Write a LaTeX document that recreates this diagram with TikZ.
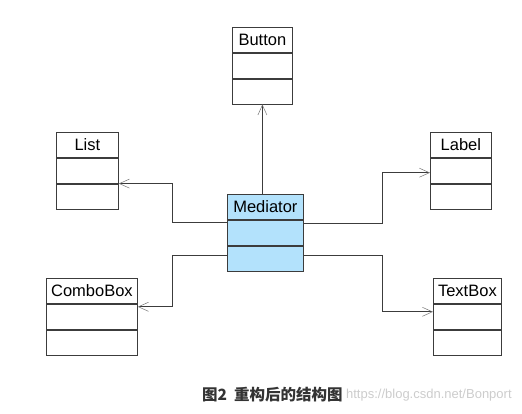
\documentclass[tikz,border=0pt]{standalone}
\usepackage{fontspec}
\newfontfamily\umlfont{Liberation Sans}
\newfontfamily\cjk{Noto Sans CJK SC}
\usepackage{tikz}
\usetikzlibrary{arrows.meta, positioning}
\definecolor{medblue}{RGB}{179,226,252}
\definecolor{linegray}{RGB}{60,60,60}

\begin{document}
\begin{tikzpicture}[
    x=1pt, y=1pt,
    head/.style={rectangle, draw=linegray, line width=0.8pt, minimum height=25pt, inner sep=0pt, anchor=north west, font=\umlfont\fontsize{16.5}{18}\selectfont},
    part/.style={rectangle, draw=linegray, line width=0.8pt, minimum height=25pt, inner sep=0pt},
    conn/.style={draw=linegray, line width=0.7pt, -{Straight Barb[length=10pt, width=9pt, line width=0.5pt, color=black!55]}},
    node distance=0pt
]
\useasboundingbox (0,0) rectangle (522,-414);

% classes
\node[head, minimum width=60pt] (btn) at (232,-27) {Button};
\node[part, minimum width=60pt, below=of btn] (btn-a) {};
\node[part, minimum width=60pt, below=of btn-a] (btn-b) {};

\node[head, minimum width=62pt] (list) at (56,-132) {List};
\node[part, minimum width=62pt, below=of list] (list-a) {};
\node[part, minimum width=62pt, below=of list-a] (list-b) {};

\node[head, minimum width=61pt] (lbl) at (430,-132) {Label};
\node[part, minimum width=61pt, below=of lbl] (lbl-a) {};
\node[part, minimum width=61pt, below=of lbl-a] (lbl-b) {};

\node[head, minimum width=76pt, fill=medblue] (med) at (227,-194) {Mediator};
\node[part, minimum width=76pt, fill=medblue, below=of med] (med-a) {};
\node[part, minimum width=76pt, fill=medblue, below=of med-a] (med-b) {};

\node[head, minimum width=91pt] (combo) at (46,-278) {ComboBox};
\node[part, minimum width=91pt, below=of combo] (combo-a) {};
\node[part, minimum width=91pt, below=of combo-a] (combo-b) {};

\node[head, minimum width=68pt] (tb) at (433,-278) {TextBox};
\node[part, minimum width=68pt, below=of tb] (tb-a) {};
\node[part, minimum width=68pt, below=of tb-a] (tb-b) {};

% connectors
\path[conn] (btn-b.south |- med.north) -- (btn-b.south);
\path[conn] ([yshift=-3pt]med-a.north west) -- ++(-55,0) |- (list-a.south east);
\path[conn] ([yshift=-10pt]med-b.north west) -- ++(-55,0) |- ([yshift=-3pt]combo-a.north east);
\path[conn] ([yshift=-4pt]med-a.north east) -- ++(79,0) |- ([yshift=-2pt]lbl-a.west);
\path[conn] ([yshift=-10pt]med-b.north east) -- ++(79,0) |- ([yshift=-8pt]tb-a.north west);

% caption
\node[text=black!80, font=\cjk\bfseries\fontsize{15.5}{18}\selectfont, anchor=west, inner sep=0pt] (cap) at (202,-395) {图2\ \ 重构后的结构图};
\node[text=black!20, font=\umlfont\fontsize{13}{15}\selectfont, anchor=west, inner sep=0pt] (mark) at ([xshift=3pt]cap.east) {https://blog.csdn.net/Bonport};
\end{tikzpicture}
\end{document}
